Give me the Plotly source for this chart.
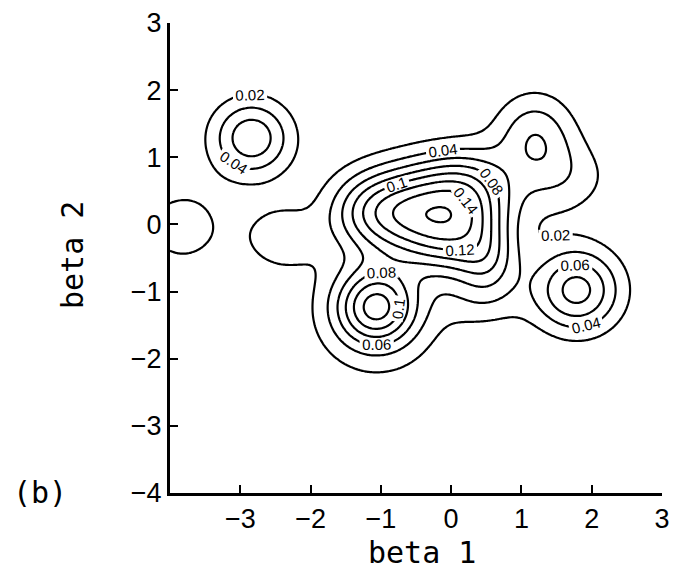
import numpy as np
import plotly.graph_objects as go

# ---- values ----
# flat-topped central ridge: outline (beta 1, beta 2), plateau height, edge softness
ridge_x = [-1.57, -1.42, -0.65, -0.15, 0.35, 0.62, 0.65, 0.52, 0.05, -0.40, -0.95, -1.42]
ridge_y = [0.20, 0.50, 0.68, 0.82, 0.95, 0.70, 0.25, -0.45, -0.62, -0.45, -0.20, -0.15]
ridge_height = 0.152
ridge_soft = 0.35

# round bumps: centre x, centre y, height, spread x, spread y
bump_x = [-0.30, 0.55, -1.07, -1.05, 1.79, -2.84, -3.82, -2.42, 1.19, 1.60, 0.45]
bump_y = [0.15, -0.60, -1.23, -1.45, -0.98, 1.29, -0.04, -0.20, 1.33, 0.70, -1.15]
bump_h = [0.022, 0.040, 0.105, 0.024, 0.087, 0.075, 0.028, 0.030, 0.052, 0.028, 0.020]
bump_sx = [1.00, 0.30, 0.40, 0.75, 0.44, 0.40, 0.48, 0.38, 0.40, 0.50, 0.45]
bump_sy = [0.70, 0.35, 0.40, 0.75, 0.44, 0.40, 0.48, 0.35, 0.45, 0.40, 0.30]

levels_start, levels_end, levels_step = 0.02, 0.16, 0.02
x_ticks = [-3, -2, -1, 0, 1, 2, 3]
y_ticks = [-4, -3, -2, -1, 0, 1, 2, 3]

# ---- surface on a grid ----
step = 0.025
gx = np.arange(-4.0, 3.0 + step / 2, step)
gy = np.arange(-4.0, 3.0 + step / 2, step)
X, Y = np.meshgrid(gx, gy)


def inside_polygon(xx, yy, px, py):
    res = np.zeros(xx.shape, dtype=bool)
    n = len(px)
    j = n - 1
    for i in range(n):
        cond = ((py[i] > yy) != (py[j] > yy)) & (
            xx < (px[j] - px[i]) * (yy - py[i]) / (py[j] - py[i] + 1e-12) + px[i])
        res ^= cond
        j = i
    return res


mask = inside_polygon(X, Y, ridge_x, ridge_y).astype(float)
t = np.arange(-70, 71) * step
kern = np.exp(-t ** 2 / (2 * ridge_soft ** 2))
kern /= kern.sum()
blur = np.apply_along_axis(lambda r: np.convolve(r, kern, mode="same"), 1, mask)
blur = np.apply_along_axis(lambda c: np.convolve(c, kern, mode="same"), 0, blur)
Z = ridge_height * blur
for cx, cy, h, sx, sy in zip(bump_x, bump_y, bump_h, bump_sx, bump_sy):
    Z += h * np.exp(-((X - cx) ** 2) / (2 * sx ** 2) - ((Y - cy) ** 2) / (2 * sy ** 2))

fig = go.Figure(go.Contour(
    x=gx, y=gy, z=Z,
    contours=dict(start=levels_start, end=levels_end, size=levels_step,
                  coloring="lines", showlabels=True,
                  labelfont=dict(size=15, color="black", family="Liberation Sans")),
    colorscale=[[0, "black"], [1, "black"]],
    line=dict(width=2.2),
    showscale=False,
    hoverinfo="skip",
))

tick_font = dict(family="Liberation Sans", size=27, color="black")
title_font = dict(family="DejaVu Sans Mono", size=30, color="black")
# the page adds an 8px body margin, so the figure is 8px smaller and margins shifted
fig.update_layout(
    width=669, height=569,
    margin=dict(l=162, r=15, t=15, b=84),
    paper_bgcolor="white", plot_bgcolor="white",
    showlegend=False,
    xaxis=dict(range=[-4, 3], tickvals=x_ticks, ticks="inside", ticklen=8, tickwidth=2,
               tickcolor="black", showline=True, linewidth=3, linecolor="black",
               showgrid=False, zeroline=False, tickfont=tick_font, automargin=False),
    yaxis=dict(range=[-4, 3], tickvals=y_ticks, ticks="inside", ticklen=8, tickwidth=2,
               tickcolor="black", showline=True, linewidth=3, linecolor="black",
               showgrid=False, zeroline=False, tickfont=tick_font, automargin=False),
    annotations=[
        dict(text="beta 1", xref="paper", yref="paper", x=(422 - 170) / 492, y=(493 - 552) / 470,
             xanchor="center", yanchor="middle", showarrow=False, font=title_font),
        dict(text="beta 2", xref="paper", yref="paper", x=(72 - 170) / 492, y=(493 - 255) / 470,
             xanchor="center", yanchor="middle", showarrow=False, textangle=-90, font=title_font),
        dict(text="(b)", xref="paper", yref="paper", x=(40 - 170) / 492, y=(493 - 492) / 470,
             xanchor="center", yanchor="middle", showarrow=False, font=title_font),
    ],
)

fig.write_html("out.html")
